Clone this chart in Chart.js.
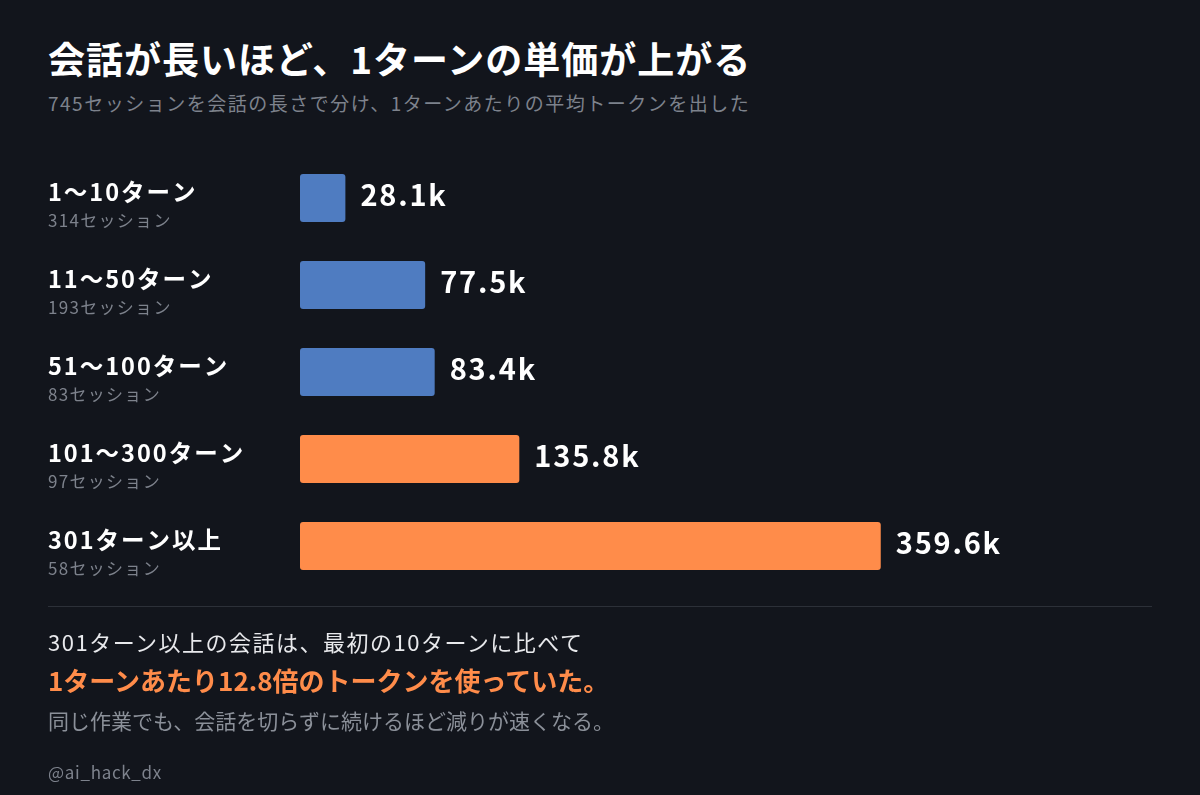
<!DOCTYPE html>
<html lang="ja">
<head>
<meta charset="utf-8">
<script src="https://cdn.jsdelivr.net/npm/chart.js@4/dist/chart.umd.min.js"></script>
<style>
  html, body { margin: 0; padding: 0; background: #12151c; }
  body { width: 1200px; height: 795px; position: relative; overflow: hidden;
         font-family: "Noto Sans CJK JP", "Noto Sans", sans-serif; }
  #chart { position: absolute; left: 0; top: 0; }
  .t { position: absolute; left: 48px; white-space: nowrap; }
  #title { top: 31px; font-size: 37px; font-weight: 700; color: #ffffff; letter-spacing: 1px; }
  #sub { top: 89px; font-size: 19px; color: #7d828c; letter-spacing: 1.5px; }
  #rule { position: absolute; left: 48px; top: 606px; width: 1104px; height: 1px; background: #2c3038; }
  #note1 { top: 625px; font-size: 22px; color: #e8e9ec; letter-spacing: 1.5px; }
  #note2 { top: 661px; font-size: 26px; font-weight: 700; color: #ff8c4a; }
  #note3 { top: 705px; font-size: 21px; color: #8b9099; }
  #handle { top: 759px; font-size: 17px; color: #7d828c; letter-spacing: 0.7px; }
</style>
</head>
<body>
<div class="t" id="title">会話が長いほど、1ターンの単価が上がる</div>
<div class="t" id="sub">745セッションを会話の長さで分け、1ターンあたりの平均トークンを出した</div>
<canvas id="chart" width="1200" height="795"></canvas>
<div id="rule"></div>
<div class="t" id="note1">301ターン以上の会話は、最初の10ターンに比べて</div>
<div class="t" id="note2">1ターンあたり12.8倍のトークンを使っていた。</div>
<div class="t" id="note3">同じ作業でも、会話を切らずに続けるほど減りが速くなる。</div>
<div class="t" id="handle">@ai_hack_dx</div>
<script>
// buckets by conversation length
const buckets = ['1〜10ターン', '11〜50ターン', '51〜100ターン', '101〜300ターン', '301ターン以上'];
const sessions = [314, 193, 83, 97, 58];
// average tokens per turn, in thousands
const tokensK = [28.1, 77.5, 83.4, 135.8, 359.6];
const barColors = ['#4f7cc1', '#4f7cc1', '#4f7cc1', '#ff8c4a', '#ff8c4a'];

const FONT = '"Noto Sans CJK JP", "Noto Sans", sans-serif';

// left row labels + value labels at the bar ends
const rowText = {
  id: 'rowText',
  afterDatasetsDraw(chart) {
    const { ctx } = chart;
    const meta = chart.getDatasetMeta(0);
    ctx.save();
    ctx.textBaseline = 'middle';
    ctx.textAlign = 'left';
    meta.data.forEach((bar, i) => {
      const y = bar.y;
      ctx.fillStyle = '#ffffff';
      ctx.font = '700 23.5px ' + FONT;
      ctx.letterSpacing = '2px';
      ctx.fillText(buckets[i], 48, y - 6);
      ctx.fillStyle = '#7d828c';
      ctx.font = '400 17px ' + FONT;
      ctx.letterSpacing = '1.3px';
      ctx.fillText(sessions[i] + 'セッション', 48, y + 23);
      ctx.fillStyle = '#ffffff';
      ctx.font = '700 29px ' + FONT;
      ctx.letterSpacing = '1.8px';
      ctx.fillText(tokensK[i].toFixed(1) + 'k', bar.x + 15, y - 3);
    });
    ctx.restore();
  }
};

new Chart(document.getElementById('chart'), {
  type: 'bar',
  data: {
    labels: buckets,
    datasets: [{
      data: tokensK,
      backgroundColor: barColors,
      borderRadius: 3,
      borderSkipped: false,
      barPercentage: 0.55,
      categoryPercentage: 1.0
    }]
  },
  options: {
    indexAxis: 'y',
    responsive: false,
    animation: false,
    layout: { padding: { left: 300, right: 254, top: 154.5, bottom: 205.5 } },
    scales: {
      x: { display: false, min: 0, max: 400 },
      y: { display: false }
    },
    plugins: {
      legend: { display: false },
      tooltip: { enabled: false }
    }
  },
  plugins: [rowText]
});
</script>
</body>
</html>
